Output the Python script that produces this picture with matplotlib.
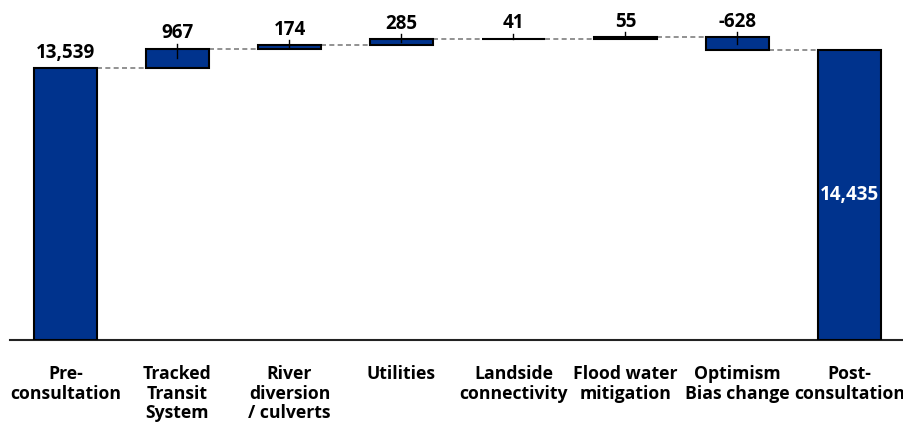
import numpy as np
import matplotlib
matplotlib.use("Agg")
import matplotlib.pyplot as plt

plt.rcParams["font.family"] = ["Open Sans", "DejaVu Sans"]
plt.rcParams["font.weight"] = "bold"

categories = ["Pre-\nconsultation", "Tracked\nTransit\nSystem", "River\ndiversion\n/ culverts",
              "Utilities", "Landside\nconnectivity", "Flood water\nmitigation",
              "Optimism\nBias change", "Post-\nconsultation"]
start_value = 13539
changes = [967, 174, 285, 41, 55, -628]
end_value = 14435

bar_color = "#00338D"
dash_color = "#7F7F7F"
bar_w = 0.5625
fs = 13.5

fig = plt.figure(figsize=(9.04, 4.32), dpi=100)
ax = fig.add_axes([9.5 / 904, 92 / 432, 896 / 904, 340 / 432])

n = len(categories)
x = np.arange(n)

# running totals for the floating bars
bottoms = [0]
heights = [start_value]
level = start_value
levels = [level]
for c in changes:
    bottoms.append(level if c >= 0 else level + c)
    heights.append(abs(c))
    level += c
    levels.append(level)
bottoms.append(0)
heights.append(end_value)

ax.bar(x, heights, bottom=bottoms, width=bar_w, color=bar_color,
       edgecolor="black", linewidth=1.5, zorder=3)

# dashed connectors between neighbouring bars
for i in range(n - 1):
    y = levels[i]
    ax.plot([x[i] + bar_w / 2, x[i + 1] - bar_w / 2], [y, y], color=dash_color,
            lw=1.2, ls=(0, (3, 2)), zorder=2)

# value labels
ax.annotate(f"{start_value:,}", (x[0], start_value), xytext=(0, 7), textcoords="offset points",
            ha="center", va="baseline", fontsize=fs, fontweight="bold")
for i, c in enumerate(changes, start=1):
    top = bottoms[i] + heights[i]
    mid = bottoms[i] + heights[i] / 2
    ax.plot([x[i], x[i]], [mid, top + 250], color="black", lw=1.0, zorder=4)
    ax.annotate(f"{c:,}", (x[i], top), xytext=(0, 7.5), textcoords="offset points",
                ha="center", va="baseline", fontsize=fs, fontweight="bold")
ax.text(x[-1], end_value / 2, f"{end_value:,}", ha="center", va="center",
        color="white", fontsize=fs, fontweight="bold", zorder=5)

ax.set_xlim(-0.5, n - 0.5)
ax.set_ylim(0, 16925)
ax.set_xticks(x)
ax.set_xticklabels(categories, fontsize=12.7, fontweight="bold", linespacing=1.12)
ax.tick_params(axis="x", length=0, pad=18)
ax.set_yticks([])
for s in ["top", "right", "left"]:
    ax.spines[s].set_visible(False)
ax.spines["bottom"].set_linewidth(1.5)
ax.spines["bottom"].set_color("#222222")
ax.patch.set_alpha(0)

fig.savefig("out.png", dpi=100)
